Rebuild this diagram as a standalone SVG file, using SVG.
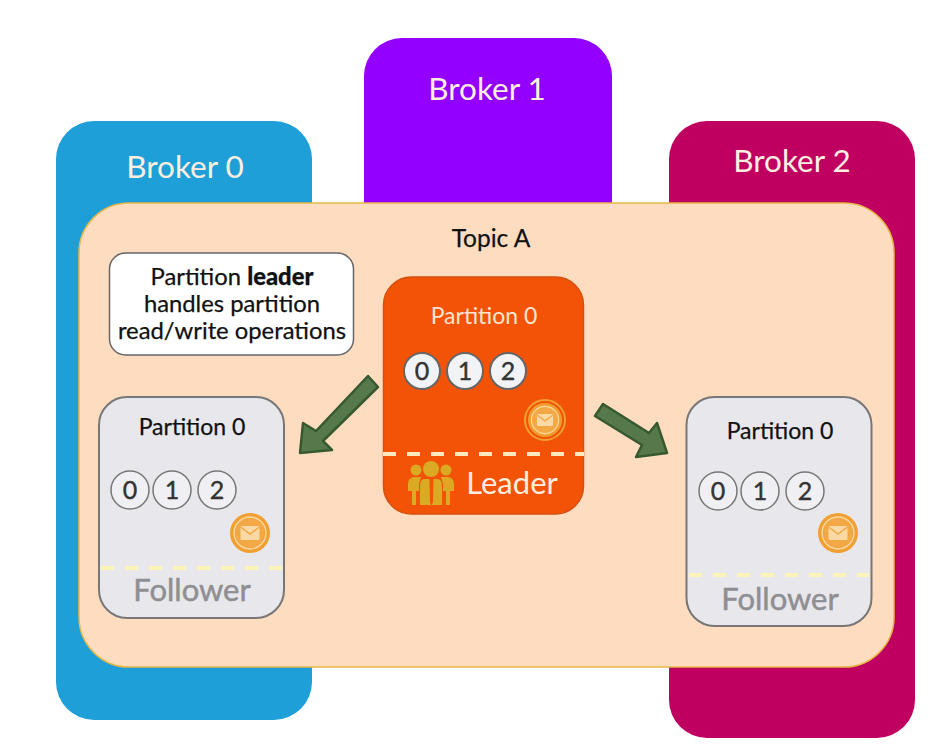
<svg xmlns="http://www.w3.org/2000/svg" width="947" height="752" viewBox="0 0 947 752">
<style>
text{font-family:"Lato","Liberation Sans",sans-serif;text-anchor:middle}
.broker{font-size:31.500px;fill:#fdeee0}
.title{font-size:23px;fill:#111;stroke:#111;stroke-width:.25}
.topic{font-size:24.500px;fill:#111;stroke:#111;stroke-width:.25}
.note{font-size:23.800px;fill:#111;stroke:#111;stroke-width:.25}
.num{font-size:25px;fill:#333;stroke:#333;stroke-width:.4}
.state{font-size:31px}
.cf{fill:#f0f0f4;stroke:#777;stroke-width:1.5}
.cl{fill:#f2f3f7;stroke:#666;stroke-width:2}
.card{fill:#e8e8ec;stroke:#777;stroke-width:2}
.dash{stroke-width:4;stroke-dasharray:13 11;fill:none}
.arrow{fill:#55794a;stroke:#37592f;stroke-width:2.5;stroke-linejoin:round}
</style>
<defs>
<g id="msg">
<circle r="20" fill="#f0a030"/>
<circle r="16" fill="#f3a846" stroke="#fbd9a4" stroke-width="1.300"/>
<rect x="-9.500" y="-7" width="19" height="14" rx="1.500" fill="#fbd9a4"/>
<path d="M-9.500-6L0 1L9.500-6" fill="none" stroke="#f3a846" stroke-width="1.500"/>
</g>
</defs>
<rect width="947" height="752" fill="#fff"/>
<g id="broker-0"><rect x="56" y="121" width="256" height="599" rx="38" fill="#1f9fd8"/><text class="broker" x="185" y="178">Broker 0</text></g>
<g id="broker-1"><rect x="364" y="38" width="248" height="300" rx="38" fill="#9400ff"/><text class="broker" x="487" y="100">Broker 1</text></g>
<g id="broker-2"><rect x="669" y="121" width="246" height="617" rx="38" fill="#bf0060"/><text class="broker" x="792" y="172">Broker 2</text></g>
<g id="topic-a"><rect x="79" y="203" width="815" height="464" rx="50" fill="#fedcc0" stroke="#e8b84a" stroke-width="1.500"/><text class="topic" x="491" y="247">Topic A</text></g>
<g id="note"><rect x="109.500" y="253" width="244" height="102" rx="16" fill="#fff" stroke="#666" stroke-width="1.500"/>
<text class="note" x="232" y="285">Partition <tspan font-weight="900">leader</tspan></text><text class="note" x="232" y="312">handles partition</text><text class="note" x="232" y="339">read/write operations</text></g>
<g id="leader"><rect x="383.500" y="277" width="200" height="237" rx="28" fill="#f25307" stroke="#d5500f" stroke-width="1.500"/>
<text x="484" y="324" font-size="23" fill="#fde6d0">Partition 0</text>
<circle class="cl" cx="422" cy="371" r="18"/><circle class="cl" cx="465" cy="371" r="18"/><circle class="cl" cx="508" cy="371" r="18"/>
<text class="num" x="422" y="380">0</text><text class="num" x="465" y="380">1</text><text class="num" x="508" y="380">2</text>
<circle cx="545" cy="420" r="20" fill="none" stroke="#f0a030" stroke-width="2"/>
<use href="#msg" transform="translate(545 420) scale(.85)"/>
<path class="dash" d="M383 454H584" stroke="#ffe9bd"/>
<g fill="#dcaa22"><circle cx="431" cy="469" r="8"/><circle cx="416" cy="470" r="5.500"/><circle cx="446" cy="470" r="5.500"/>
<path d="M408 491V484Q408 478 414 477H421L419 484V491H416V505H412V491ZM454 491V484Q454 478 448 477H441L443 484V491H446V505H450V491Z"/>
<path d="M424 479H429.500L430 502L431.500 506L433 502L433.500 479H438Q442 480 442 486V505H420V486Q420 480 424 479Z"/></g>
<text class="state" x="512" y="494" fill="#fdeee0">Leader</text></g>
<g id="follower-left"><rect class="card" x="99" y="397" width="185" height="221" rx="28"/>
<text class="title" x="192" y="435">Partition 0</text>
<circle class="cf" cx="130" cy="490" r="19"/><circle class="cf" cx="172" cy="490" r="19"/><circle class="cf" cx="217" cy="490" r="19"/>
<text class="num" x="130" y="499">0</text><text class="num" x="172" y="499">1</text><text class="num" x="217" y="499">2</text>
<use href="#msg" transform="translate(250 533)"/>
<path class="dash" d="M101 568H282" stroke="#fbf5b8"/>
<text class="state" x="192" y="601" fill="#8f8f93" stroke="#8f8f93" stroke-width=".5">Follower</text></g>
<g id="follower-right"><rect class="card" x="686.500" y="397" width="185" height="229" rx="28"/>
<text class="title" x="780" y="439">Partition 0</text>
<circle class="cf" cx="718" cy="491" r="19"/><circle class="cf" cx="760" cy="491" r="19"/><circle class="cf" cx="805" cy="491" r="19"/>
<text class="num" x="718" y="500">0</text><text class="num" x="760" y="500">1</text><text class="num" x="805" y="500">2</text>
<use href="#msg" transform="translate(838 533)"/>
<path class="dash" d="M689 575H869" stroke="#fbf5b8"/>
<text class="state" x="780" y="610" fill="#8f8f93" stroke="#8f8f93" stroke-width=".5">Follower</text></g>
<g id="connectors">
<path class="arrow" d="M368 376L378 387L323 441L332 450L300 453L303 423L316 431Z"/>
<path class="arrow" d="M603 404L595 416L642 445L636 457L667 453L657 423L649 433Z"/>
</g>
</svg>
